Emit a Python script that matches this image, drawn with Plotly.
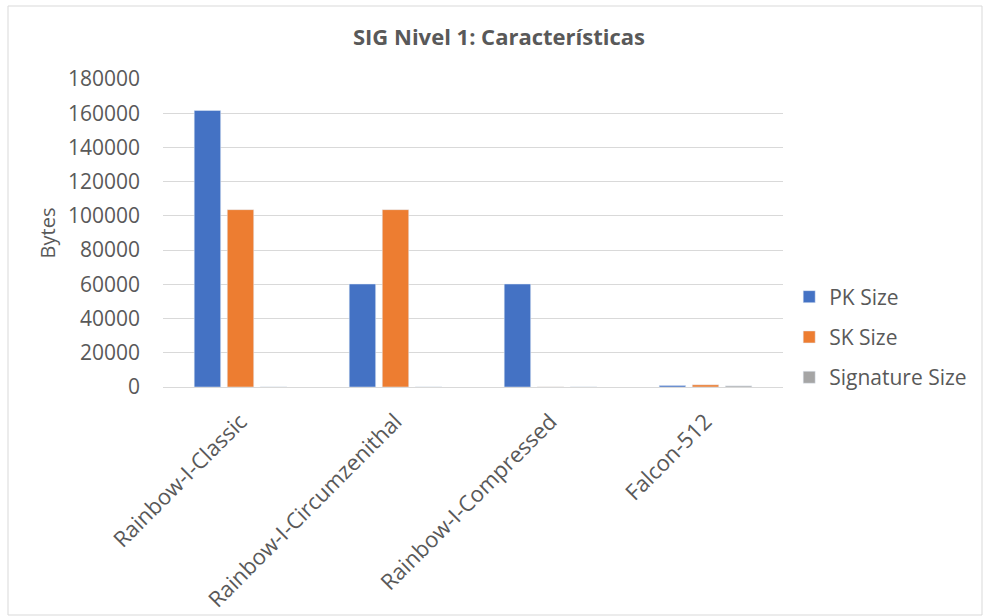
import plotly.graph_objects as go

categories = ["Rainbow-I-Classic", "Rainbow-I-Circumzenithal", "Rainbow-I-Compressed", "Falcon-512"]
pk_size = [161600, 60192, 60192, 897]
sk_size = [103648, 103648, 64, 1281]
sig_size = [66, 66, 66, 666]
y_ticks = [0, 20000, 40000, 60000, 80000, 100000, 120000, 140000, 160000, 180000]

FONT = "Open Sans"
TXT = "#595959"

fig = go.Figure()
fig.add_trace(go.Bar(name="PK Size", x=categories, y=pk_size, marker_color="#4472C4", legendgroup="a"))
fig.add_trace(go.Bar(name="SK Size", x=categories, y=sk_size, marker_color="#ED7D31", legendgroup="b"))
fig.add_trace(go.Bar(name="Signature Size", x=categories, y=sig_size, marker_color="#A5A5A5", legendgroup="c"))

fig.update_layout(
    width=983, height=616,
    margin=dict(l=163, r=200, t=79, b=229, autoexpand=False),
    paper_bgcolor="white", plot_bgcolor="white",
    barmode="group", bargap=0.36, bargroupgap=0.2,
    font=dict(family=FONT, color=TXT),
    title=dict(text="<b>SIG Nivel 1: Características</b>", x=(499 - 163) / 620, xanchor="center",
               xref="paper", y=0.94, yanchor="middle",
               font=dict(size=22, color=TXT, family=FONT)),
    legend=dict(x=1.01, y=(387 - 337) / 308, xanchor="left", yanchor="middle",
                font=dict(size=21, color=TXT, family=FONT), tracegroupgap=10,
                traceorder="grouped", itemwidth=30, bgcolor="rgba(0,0,0,0)"),
    showlegend=True,
)
fig.update_yaxes(range=[0, 180000], tickvals=y_ticks, tickformat="d",
                 showgrid=True, gridcolor="#D9D9D9", gridwidth=1,
                 zeroline=True, zerolinecolor="#D9D9D9", zerolinewidth=1,
                 tickfont=dict(size=21, color=TXT), ticks="", ticklen=0,
                 ticklabelstandoff=22,
                 title=dict(text="Bytes", font=dict(size=20, color=TXT), standoff=6))
fig.update_xaxes(tickangle=-45, tickfont=dict(size=22, color=TXT), showline=True,
                 linecolor="#D9D9D9", ticks="", ticklabelstandoff=12)

fig.add_shape(type="rect", xref="paper", yref="paper",
              x0=(8 - 163) / 620, x1=(982 - 163) / 620,
              y0=(387 - 615) / 308, y1=(387 - 6) / 308,
              line=dict(color="#D9D9D9", width=1), fillcolor="rgba(0,0,0,0)", layer="below")

fig.write_html("out.html")
